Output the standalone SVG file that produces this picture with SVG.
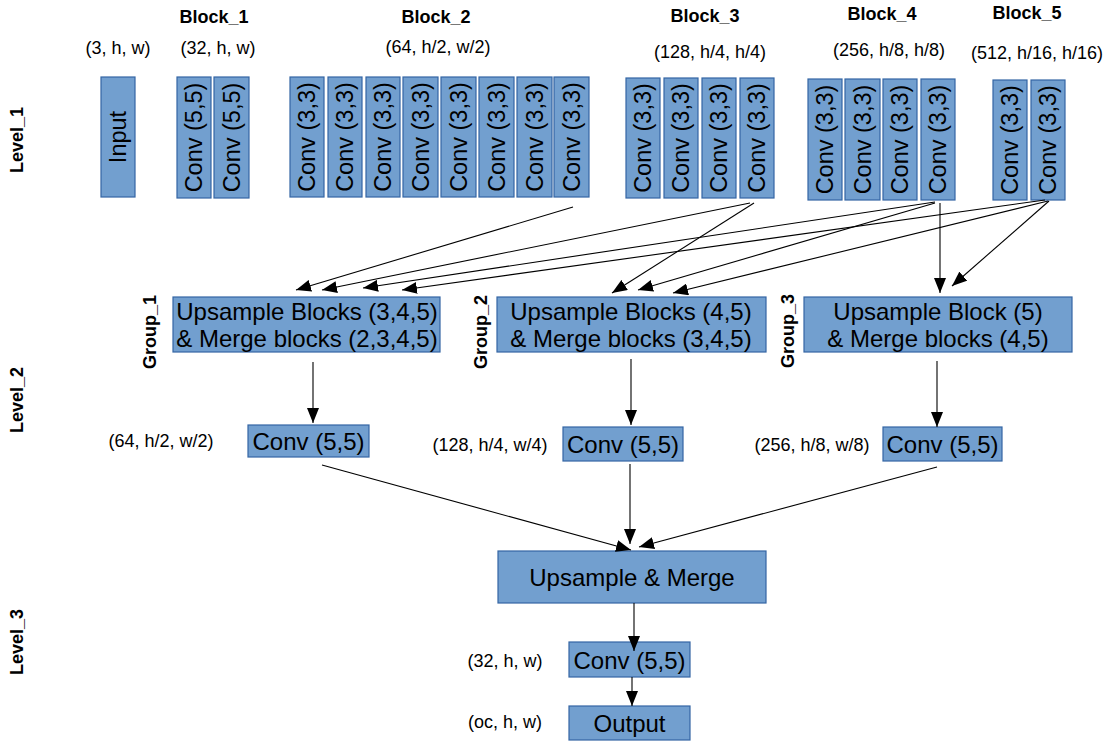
<svg xmlns="http://www.w3.org/2000/svg" width="1109" height="742" viewBox="0 0 1109 742">
<style>
.b{fill:#729fcf;stroke:#3465a4;stroke-width:1.2}
.t{font-family:"Liberation Sans",Arial,sans-serif;font-size:23.5px;fill:#000;text-anchor:middle;dominant-baseline:central}
.w{font-size:24px}
.s{font-family:"Liberation Sans",Arial,sans-serif;font-size:18px;fill:#000;text-anchor:middle;dominant-baseline:central}
.h{font-family:"Liberation Sans",Arial,sans-serif;font-size:18px;font-weight:bold;fill:#000;text-anchor:middle;dominant-baseline:central}
.c line{stroke:#000;stroke-width:1.1;marker-end:url(#ah)}
</style>
<defs>
<marker id="ah" markerUnits="userSpaceOnUse" markerWidth="16" markerHeight="12" refX="15" refY="6" orient="auto">
<path d="M0,0 L15,6 L0,12 z" fill="#000"/>
</marker>
</defs>
<rect width="1109" height="742" fill="#fff"/>
<g id="labels">
<text class="h" transform="translate(17,140) rotate(-90)">Level_1</text>
<text class="h" transform="translate(17,400) rotate(-90)">Level_2</text>
<text class="h" transform="translate(17,642) rotate(-90)">Level_3</text>
<text class="h" x="214" y="17">Block_1</text>
<text class="h" x="436" y="17">Block_2</text>
<text class="h" x="705" y="16">Block_3</text>
<text class="h" x="882" y="14">Block_4</text>
<text class="h" x="1027" y="13">Block_5</text>
<text class="s" x="118" y="48">(3, h, w)</text>
<text class="s" x="218" y="48">(32, h, w)</text>
<text class="s" x="438" y="47">(64, h/2, w/2)</text>
<text class="s" x="710" y="52">(128, h/4, h/4)</text>
<text class="s" x="889" y="50">(256, h/8, h/8)</text>
<text class="s" x="1037" y="53">(512, h/16, h/16)</text>
<text class="h" transform="translate(150,332) rotate(-90)">Group_1</text>
<text class="h" transform="translate(481,332) rotate(-90)">Group_2</text>
<text class="h" transform="translate(788,331) rotate(-90)">Group_3</text>
<text class="s" x="161" y="441">(64, h/2, w/2)</text>
<text class="s" x="490" y="445">(128, h/4, w/4)</text>
<text class="s" x="812" y="445">(256, h/8, w/8)</text>
<text class="s" x="505" y="661">(32, h, w)</text>
<text class="s" x="505" y="722">(oc, h, w)</text>
</g>
<g id="input"><rect class="b" x="101" y="77" width="34" height="120"/><text class="t" transform="translate(118,137) rotate(-90)">Input</text></g>
<g id="block1">
<rect class="b" x="177" y="77" width="34" height="121"/><text class="t" transform="translate(194,137.5) rotate(-90)">Conv (5,5)</text>
<rect class="b" x="214" y="77" width="35" height="121"/><text class="t" transform="translate(231.5,137.5) rotate(-90)">Conv (5,5)</text>
</g>
<g id="block2">
<rect class="b" x="290" y="77" width="34" height="120"/><text class="t" transform="translate(307,137) rotate(-90)">Conv (3,3)</text>
<rect class="b" x="328" y="77" width="34" height="120"/><text class="t" transform="translate(345,137) rotate(-90)">Conv (3,3)</text>
<rect class="b" x="366" y="77" width="34" height="120"/><text class="t" transform="translate(383,137) rotate(-90)">Conv (3,3)</text>
<rect class="b" x="403" y="77" width="35" height="120"/><text class="t" transform="translate(420.5,137) rotate(-90)">Conv (3,3)</text>
<rect class="b" x="441" y="77" width="35" height="120"/><text class="t" transform="translate(458.5,137) rotate(-90)">Conv (3,3)</text>
<rect class="b" x="479" y="77" width="35" height="120"/><text class="t" transform="translate(496.5,137) rotate(-90)">Conv (3,3)</text>
<rect class="b" x="517" y="77" width="35" height="120"/><text class="t" transform="translate(534.5,137) rotate(-90)">Conv (3,3)</text>
<rect class="b" x="554" y="77" width="35" height="120"/><text class="t" transform="translate(571.5,137) rotate(-90)">Conv (3,3)</text>
</g>
<g id="block3">
<rect class="b" x="626" y="78" width="34" height="120"/><text class="t" transform="translate(643,138) rotate(-90)">Conv (3,3)</text>
<rect class="b" x="664" y="78" width="34" height="120"/><text class="t" transform="translate(681,138) rotate(-90)">Conv (3,3)</text>
<rect class="b" x="702" y="78" width="34" height="120"/><text class="t" transform="translate(719,138) rotate(-90)">Conv (3,3)</text>
<rect class="b" x="740" y="78" width="34" height="120"/><text class="t" transform="translate(757,138) rotate(-90)">Conv (3,3)</text>
</g>
<g id="block4">
<rect class="b" x="808" y="79" width="34" height="121"/><text class="t" transform="translate(825,139.5) rotate(-90)">Conv (3,3)</text>
<rect class="b" x="845" y="79" width="35" height="121"/><text class="t" transform="translate(862.5,139.5) rotate(-90)">Conv (3,3)</text>
<rect class="b" x="883" y="79" width="34" height="121"/><text class="t" transform="translate(900,139.5) rotate(-90)">Conv (3,3)</text>
<rect class="b" x="921" y="79" width="34" height="121"/><text class="t" transform="translate(938,139.5) rotate(-90)">Conv (3,3)</text>
</g>
<g id="block5">
<rect class="b" x="993" y="80" width="34" height="120"/><text class="t" transform="translate(1010,140) rotate(-90)">Conv (3,3)</text>
<rect class="b" x="1031" y="80" width="34" height="120"/><text class="t" transform="translate(1048,140) rotate(-90)">Conv (3,3)</text>
</g>
<g id="group1"><rect class="b" x="173" y="297" width="267" height="55"/><text class="t w" x="307" y="311">Upsample Blocks (3,4,5)</text><text class="t w" x="307" y="338">&amp; Merge blocks (2,3,4,5)</text></g>
<g id="group2"><rect class="b" x="497" y="297" width="269" height="55"/><text class="t w" x="631" y="311">Upsample Blocks (4,5)</text><text class="t w" x="631" y="338">&amp; Merge blocks (3,4,5)</text></g>
<g id="group3"><rect class="b" x="804" y="297" width="268" height="55"/><text class="t w" x="938" y="311">Upsample Block (5)</text><text class="t w" x="938" y="338">&amp; Merge blocks (4,5)</text></g>
<g id="conv_g1"><rect class="b" x="248" y="425" width="121" height="32"/><text class="t w" x="308.5" y="441">Conv (5,5)</text></g>
<g id="conv_g2"><rect class="b" x="563" y="427" width="120" height="34"/><text class="t w" x="623" y="444">Conv (5,5)</text></g>
<g id="conv_g3"><rect class="b" x="883" y="427" width="119" height="34"/><text class="t w" x="942.5" y="444">Conv (5,5)</text></g>
<g id="merge"><rect class="b" x="498" y="551" width="268" height="52"/><text class="t w" x="632" y="577">Upsample &amp; Merge</text></g>
<g id="conv_out"><rect class="b" x="569" y="642" width="121" height="35"/><text class="t w" x="629.5" y="660">Conv (5,5)</text></g>
<g id="output"><rect class="b" x="569" y="706" width="121" height="34"/><text class="t w" x="629.5" y="723">Output</text></g>
<g id="connectors" class="c">
<line x1="573" y1="207" x2="296" y2="290"/>
<line x1="750" y1="203" x2="322" y2="290"/>
<line x1="935" y1="202" x2="363" y2="288"/>
<line x1="1045" y1="200" x2="402" y2="290"/>
<line x1="754" y1="203" x2="612" y2="293"/>
<line x1="935" y1="203" x2="638" y2="290"/>
<line x1="1048" y1="201" x2="673" y2="293"/>
<line x1="940" y1="203" x2="940" y2="293"/>
<line x1="1049" y1="201" x2="952" y2="286"/>
<line x1="313" y1="362" x2="313" y2="423"/>
<line x1="631" y1="359" x2="631" y2="425"/>
<line x1="937" y1="361" x2="937" y2="427"/>
<line x1="322" y1="465" x2="631" y2="550"/>
<line x1="630" y1="464" x2="630" y2="544"/>
<line x1="937" y1="467" x2="639" y2="547"/>
<line x1="634" y1="603" x2="634" y2="651"/>
<line x1="632" y1="677" x2="632" y2="706"/>
</g>
</svg>
